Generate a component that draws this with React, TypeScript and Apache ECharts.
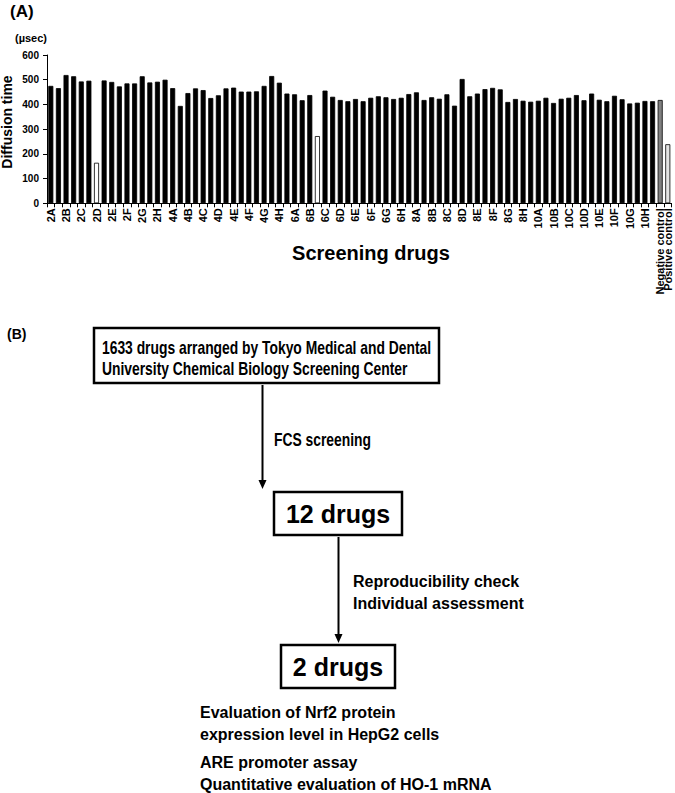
import React, { useEffect, useRef } from "react";
import * as echarts from "echarts";

// ---- Data ----
const drugLabels = [
  "2A", "2B", "2C", "2D", "2E", "2F", "2G", "2H",
  "4A", "4B", "4C", "4D", "4E", "4F", "4G", "4H",
  "6A", "6B", "6C", "6D", "6E", "6F", "6G", "6H",
  "8A", "8B", "8C", "8D", "8E", "8F", "8G", "8H",
  "10A", "10B", "10C", "10D", "10E", "10F", "10G", "10H",
];
const controlLabels = ["Negative control", "Positive control"];

// diffusion time (µsec), one value per bar (two bars per labelled drug group, then controls)
const diffusionTimes = [
  475, 466, 519, 514, 493, 496, 164, 497, 491, 473,
  485, 485, 514, 489, 492, 500, 466, 394, 446, 465,
  458, 426, 437, 465, 468, 452, 452, 453, 475, 515,
  488, 444, 441, 417, 438, 272, 456, 431, 418, 413,
  422, 413, 427, 433, 429, 422, 427, 442, 449, 418,
  429, 423, 441, 395, 503, 433, 444, 462, 467, 461,
  410, 422, 415, 411, 415, 427, 406, 423, 427, 438,
  417, 444, 419, 413, 435, 421, 404, 407, 414, 413,
  418, 239,
];
const yTickValues = [0, 100, 200, 300, 400, 500, 600];
const hitBarIndices = [6, 35];

// flowchart texts
const box1Lines = [
  "1633 drugs arranged by Tokyo Medical and Dental",
  "University Chemical Biology Screening Center",
];
const step1Label = "FCS screening";
const box2Text = "12 drugs";
const step2Lines = ["Reproducibility check", "Individual assessment"];
const box3Text = "2 drugs";
const evalLines = [
  "Evaluation of Nrf2 protein",
  "expression level in HepG2 cells",
  "ARE promoter assay",
  "Quantitative evaluation of HO-1 mRNA",
];

const FONT = "'Liberation Sans', Arial, Helvetica, sans-serif";

export default function App() {
  const ref = useRef<HTMLDivElement>(null);

  useEffect(() => {
    document.body.style.margin = "0";
    if (!ref.current) return;
    const chart = echarts.init(ref.current, undefined, { renderer: "svg" });

    const categories: string[] = [];
    drugLabels.forEach((l) => {
      categories.push(l);
      categories.push("");
    });
    controlLabels.forEach((l) => categories.push(l));

    const nDrug = drugLabels.length * 2;
    const barData = diffusionTimes.map((v, i) => {
      let color = "#000000";
      if (hitBarIndices.includes(i)) color = "#ffffff";
      else if (i === nDrug) color = "#808080";
      else if (i === nDrug + 1) color = "#e4e4e4";
      return {
        value: v,
        itemStyle: { color, borderColor: "#000", borderWidth: 0.8 },
      };
    });

    const boldText = (
      text: string,
      x: number,
      y: number,
      size: number,
      align: string = "left",
      extra: any = {}
    ) => ({
      type: "text",
      x,
      y,
      ...extra,
      style: {
        text,
        fill: "#000",
        font: `bold ${size}px ${FONT}`,
        textAlign: align,
        textVerticalAlign: "middle",
      },
    });

    const narrowText = (text: string, x: number, y: number) => ({
      type: "text",
      x,
      y,
      scaleX: 0.77,
      style: {
        text,
        fill: "#000",
        font: `bold 18px ${FONT}`,
        textAlign: "left",
        textVerticalAlign: "middle",
      },
    });

    const box = (x: number, y: number, w: number, h: number) => ({
      type: "rect",
      shape: { x, y, width: w, height: h },
      style: { fill: "#fff", stroke: "#000", lineWidth: 2.5 },
    });

    const arrow = (x: number, y1: number, y2: number) => [
      {
        type: "line",
        shape: { x1: x, y1, x2: x, y2: y2 - 7 },
        style: { stroke: "#000", lineWidth: 2 },
      },
      {
        type: "polygon",
        shape: {
          points: [
            [x - 4, y2 - 9],
            [x + 4, y2 - 9],
            [x, y2],
          ],
        },
        style: { fill: "#000" },
      },
    ];

    const graphics: any[] = [
      boldText("(A)", 10, 11, 17),
      boldText("(µsec)", 15, 38, 11),
      boldText("Diffusion time", 7, 122, 14, "center", { rotation: Math.PI / 2 }),
      boldText("Screening drugs", 371, 253, 20, "center"),
      boldText("(B)", 7, 334, 14),
      box(94, 328, 345, 55),
      narrowText(box1Lines[0], 102, 347),
      narrowText(box1Lines[1], 102, 368),
      ...arrow(262.5, 385, 489),
      narrowText(step1Label, 274, 439),
      box(274, 492, 128, 43),
      boldText(box2Text, 338, 514, 25, "center"),
      ...arrow(338.5, 537, 643),
      boldText(step2Lines[0], 353, 581, 16),
      boldText(step2Lines[1], 353, 603, 16),
      box(281, 645, 114, 43),
      boldText(box3Text, 338, 667, 25, "center"),
      boldText(evalLines[0], 200, 712, 16),
      boldText(evalLines[1], 200, 734, 16),
      boldText(evalLines[2], 200, 762, 16),
      boldText(evalLines[3], 200, 784, 16),
    ];

    chart.setOption({
      animation: false,
      backgroundColor: "#fff",
      grid: { left: 47, top: 55, width: 624.6, height: 148.3, containLabel: false },
      xAxis: {
        type: "category",
        data: categories,
        boundaryGap: true,
        axisLine: { show: true, lineStyle: { color: "#000", width: 1 } },
        axisTick: { show: true, interval: 0, length: 4, lineStyle: { color: "#000" } },
        axisLabel: {
          interval: 0,
          rotate: 90,
          margin: 5,
          color: "#000",
          fontSize: 11,
          fontWeight: "bold",
          fontFamily: FONT,
        },
      },
      yAxis: {
        type: "value",
        min: yTickValues[0],
        max: yTickValues[yTickValues.length - 1],
        interval: yTickValues[1] - yTickValues[0],
        axisLine: { show: true, lineStyle: { color: "#000", width: 1 } },
        axisTick: { show: true, length: 4, lineStyle: { color: "#000" } },
        splitLine: { show: false },
        axisLabel: {
          margin: 8,
          color: "#000",
          fontSize: 10,
          fontWeight: "bold",
          fontFamily: FONT,
        },
      },
      series: [
        {
          type: "bar",
          data: barData,
          barCategoryGap: "34%",
        },
      ],
      graphic: graphics,
    });

    return () => chart.dispose();
  }, []);

  return (
    <div
      ref={ref}
      style={{ position: "absolute", left: 0, top: 0, width: 675, height: 793 }}
    />
  );
}
